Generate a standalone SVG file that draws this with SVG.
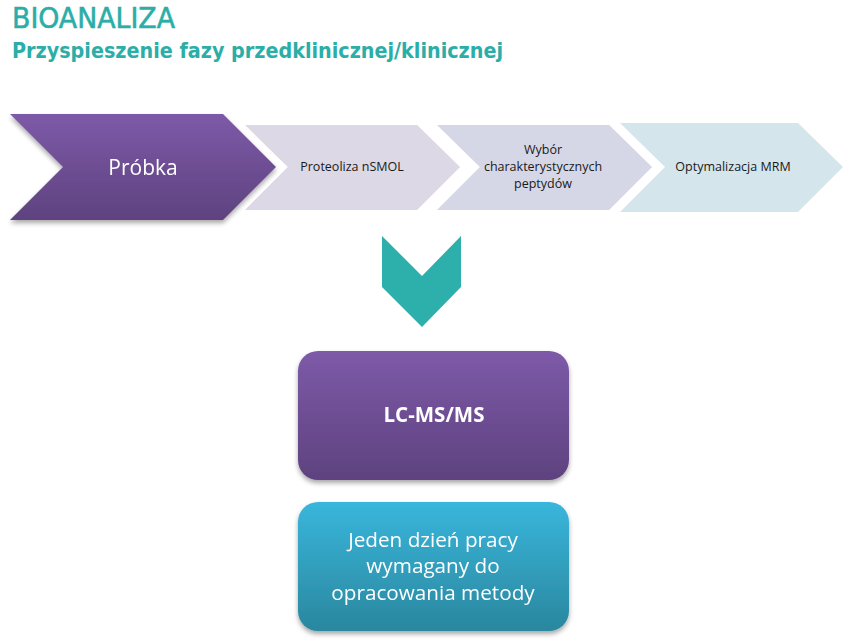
<svg xmlns="http://www.w3.org/2000/svg" width="863" height="643" viewBox="0 0 863 643">
<defs>
<linearGradient id="gPurple" x1="0" y1="0" x2="0" y2="1">
<stop offset="0" stop-color="#7d5aa8"/>
<stop offset="1" stop-color="#5e427f"/>
</linearGradient>
<linearGradient id="gCyan" x1="0" y1="0" x2="0" y2="1">
<stop offset="0" stop-color="#39b6dc"/>
<stop offset="1" stop-color="#2a879e"/>
</linearGradient>
<filter id="sh" x="-10%" y="-10%" width="120%" height="130%">
<feGaussianBlur in="SourceAlpha" stdDeviation="2.5"/>
<feOffset dx="0" dy="3" result="b"/>
<feComponentTransfer><feFuncA type="linear" slope="0.35"/></feComponentTransfer>
<feMerge><feMergeNode/><feMergeNode in="SourceGraphic"/></feMerge>
</filter>
<style>
.title{font-family:"DejaVu Sans Condensed","Liberation Sans",sans-serif;fill:#2bada8}
.lbl{font-family:"Open Sans","Liberation Sans",sans-serif;text-anchor:middle}
.dark{fill:#1a1a1a;font-size:12.5px}
.white{fill:#ffffff}
</style>
</defs>
<text class="title" x="12" y="27.5" font-size="27.5" stroke="#2bada8" stroke-width="0.5" textLength="163" lengthAdjust="spacingAndGlyphs">BIOANALIZA</text>
<text class="title" x="12" y="58.3" font-size="22" font-weight="bold" textLength="491" lengthAdjust="spacingAndGlyphs">Przyspieszenie fazy przedklinicznej/klinicznej</text>

<g id="step4">
<polygon points="620,123 798,123 843,167 798,212 620,212 665,167" fill="#d4e5ec"/>
<text class="lbl dark" x="733" y="171">Optymalizacja MRM</text>
</g>
<g id="step3">
<polygon points="432,123 610,123 655,167 610,212 432,212 477,167" fill="#d6d7e6" stroke="#ffffff" stroke-width="4"/>
<text class="lbl dark" x="543" y="154">Wybór</text>
<text class="lbl dark" x="543" y="171">charakterystycznych</text>
<text class="lbl dark" x="543" y="188">peptydów</text>
</g>
<g id="step2">
<polygon points="240,123 418,123 463,167 418,212 240,212 285,167" fill="#ddd8e5" stroke="#ffffff" stroke-width="4"/>
<text class="lbl dark" x="352" y="171">Proteoliza nSMOL</text>
</g>
<g id="step1" filter="url(#sh)">
<polygon points="10,114 223,114 276,167 223,220 10,220 63,167" fill="url(#gPurple)"/>
<text class="lbl white" x="143" y="175" font-size="21">Próbka</text>
</g>

<g id="connectors">
<polygon points="382,236 422,276 461,236 461,287 422,327 382,287" fill="#2db0ab"/>
</g>

<g id="lcms" filter="url(#sh)">
<rect x="298" y="351" width="271" height="129" rx="20" fill="url(#gPurple)"/>
<text class="lbl white" x="434" y="422" font-size="20.5" font-weight="bold">LC-MS/MS</text>
</g>
<g id="dzien" filter="url(#sh)">
<rect x="298" y="502" width="271" height="129" rx="20" fill="url(#gCyan)"/>
<text class="lbl white" x="433" y="547" font-size="20.7">Jeden dzień pracy</text>
<text class="lbl white" x="433" y="573" font-size="20.7">wymagany do</text>
<text class="lbl white" x="433" y="600" font-size="20.7">opracowania metody</text>
</g>
</svg>
